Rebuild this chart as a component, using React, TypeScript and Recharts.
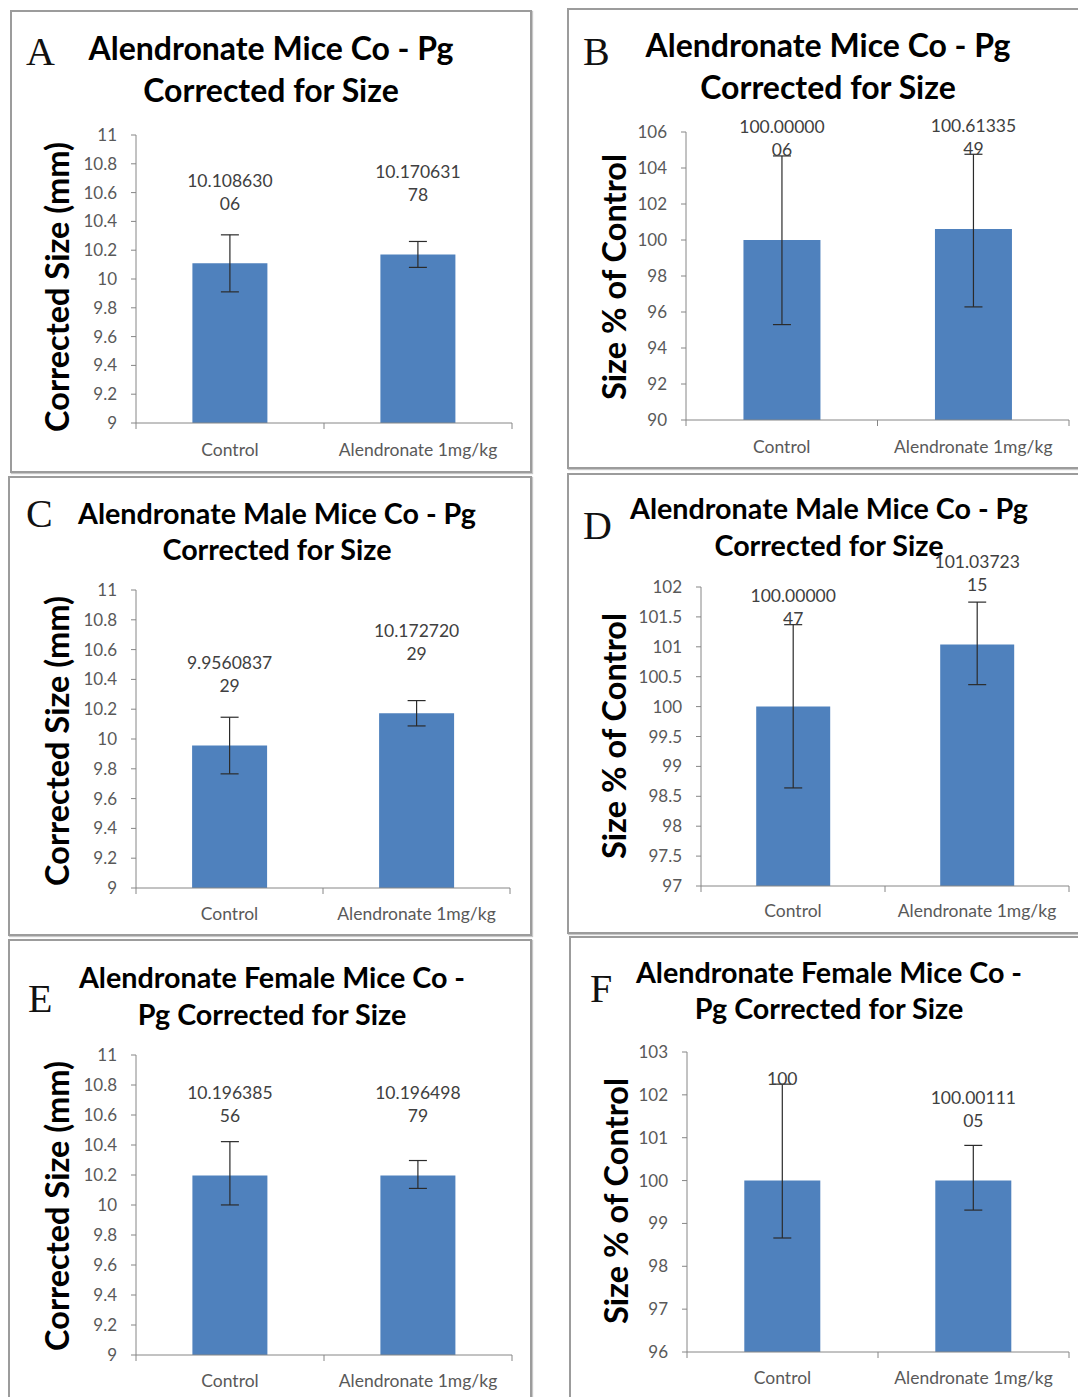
import React from "react";
import { BarChart, Bar, XAxis, YAxis, ErrorBar, LabelList } from "recharts";

// categories shared by all six panels
const categories = ["Control", "Alendronate 1mg/kg"];

// A - all mice, corrected size (mm)
const aMeans = [10.10863006, 10.17063178];
const aErrors = [[0.198, 0.198], [0.09, 0.09]];
// B - all mice, % of control
const bMeans = [100.0000006, 100.6133549];
const bErrors = [[4.7, 4.67], [4.33, 4.15]];
// C - male mice, corrected size (mm)
const cMeans = [9.956083729, 10.17272029];
const cErrors = [[0.19, 0.19], [0.085, 0.085]];
// D - male mice, % of control
const dMeans = [100.0000047, 101.0372315];
const dErrors = [[1.36, 1.37], [0.67, 0.71]];
// E - female mice, corrected size (mm)
const eMeans = [10.19638556, 10.19649879];
const eErrors = [[0.196, 0.226], [0.086, 0.1]];
// F - female mice, % of control
const fMeans = [100, 100.0011105];
const fErrors = [[1.34, 2.25], [0.69, 0.82]];

// y tick labels
const sizeTicks = [9, 9.2, 9.4, 9.6, 9.8, 10, 10.2, 10.4, 10.6, 10.8, 11];
const bTicks = [90, 92, 94, 96, 98, 100, 102, 104, 106];
const dTicks = [97, 97.5, 98, 98.5, 99, 99.5, 100, 100.5, 101, 101.5, 102];
const fTicks = [96, 97, 98, 99, 100, 101, 102, 103];

const FONT = "Lato, 'Open Sans', sans-serif";
const BLUE = "#4F81BD";
const AXIS = "#868686";
const TEXT = "#595959";

type Box = { x: number; y: number; w: number; h: number };
type Plot = { left: number; top: number; right: number; bottom: number };

type PanelProps = {
  letter: string;
  letterPos: [number, number];
  title: [string, string];
  titleY: [number, number];
  titleCx: number;
  titleSize: number;
  yLabel: string;
  yLabelPos: [number, number];
  box: Box;
  plot: Plot;
  means: number[];
  errors: number[][];
  ticks: number[];
  xLabelDy: number;
};

function Panel(p: PanelProps) {
  const { box, plot } = p;
  const data = categories.map((c, i) => ({ name: c, value: p.means[i], err: p.errors[i] }));
  const yAxisW = 60;
  const xAxisH = 40;
  const margin = {
    top: plot.top - box.y,
    left: plot.left - box.x - yAxisW,
    right: box.x + box.w - plot.right,
    bottom: box.y + box.h - plot.bottom - xAxisH,
  };
  const band = (plot.right - plot.left) / categories.length;
  const dMin = p.ticks[0];
  const dMax = p.ticks[p.ticks.length - 1];
  const spacing = p.titleY[1] - p.titleY[0];

  const renderXTick = (props: any) => {
    const { x, y, payload, index } = props;
    return (
      <g>
        <line x1={x - band / 2} x2={x - band / 2} y1={y} y2={y + 6} stroke={AXIS} />
        {index === categories.length - 1 && (
          <line x1={x + band / 2} x2={x + band / 2} y1={y} y2={y + 6} stroke={AXIS} />
        )}
        <text x={x} y={y + p.xLabelDy} textAnchor="middle" dominantBaseline="central" fontSize={17.5} fill={TEXT} fontFamily={FONT}>
          {payload.value}
        </text>
      </g>
    );
  };

  const renderLabel = (props: any) => {
    const vb = props.viewBox || {};
    const x = props.x ?? vb.x;
    const y = props.y ?? vb.y;
    const width = props.width ?? vb.width;
    const height = props.height ?? vb.height;
    const index = props.index ?? 0;
    const value = Number(props.value);
    const plus = p.errors[index][1];
    const pxPerUnit = height / (value - dMin);
    const errTop = y - plus * pxPerUnit;
    const cy = Math.min(y - 60, errTop - 6);
    const s = String(value);
    const lines = s.length > 9 ? [s.slice(0, 9), s.slice(9)] : [s];
    const cx = x + width / 2;
    return (
      <text textAnchor="middle" fontSize={17.5} fill="#404040" fontFamily={FONT}>
        {lines.map((l, i) => (
          <tspan key={i} x={cx} y={cy - (lines.length - 1 - i) * 23} dominantBaseline="central">
            {l}
          </tspan>
        ))}
      </text>
    );
  };

  return (
    <div style={{ position: "absolute", left: box.x, top: box.y, width: box.w, height: box.h }}>
      <div
        style={{
          position: "absolute",
          inset: 0,
          border: "2px solid #9c9c9c",
          boxSizing: "border-box",
          boxShadow: "1px 1px 1px #c8c8c8",
        }}
      />
      <div
        style={{
          position: "absolute",
          left: p.letterPos[0] - box.x - 2,
          top: p.letterPos[1] - box.y - 7,
          fontFamily: "'Liberation Serif', serif",
          fontSize: 40,
          lineHeight: "42px",
          color: "#111",
        }}
      >
        {p.letter}
      </div>
      <div
        style={{
          position: "absolute",
          left: p.titleCx - box.x - 260,
          width: 520,
          top: p.titleY[0] - box.y - spacing / 2,
          textAlign: "center",
          fontFamily: FONT,
          fontWeight: 700,
          fontSize: p.titleSize,
          lineHeight: `${spacing}px`,
          color: "#000",
          whiteSpace: "nowrap",
        }}
      >
        <div>{p.title[0]}</div>
        <div>{p.title[1]}</div>
      </div>
      <div
        style={{
          position: "absolute",
          left: p.yLabelPos[0] - box.x - 200,
          top: p.yLabelPos[1] - box.y - 20,
          width: 400,
          height: 40,
          lineHeight: "40px",
          textAlign: "center",
          transform: "rotate(-90deg)",
          fontFamily: FONT,
          fontWeight: 700,
          fontSize: 32.5,
          color: "#000",
          whiteSpace: "nowrap",
        }}
      >
        {p.yLabel}
      </div>
      <div style={{ position: "absolute", left: 0, top: 0 }}>
        <BarChart width={box.w} height={box.h} data={data} margin={margin} barCategoryGap="30%">
          <XAxis
            dataKey="name"
            height={xAxisH}
            stroke={AXIS}
            tickLine={false}
            tickSize={0}
            tickMargin={0}
            interval={0}
            tick={renderXTick}
          />
          <YAxis
            type="number"
            width={yAxisW}
            domain={[dMin, dMax]}
            ticks={p.ticks}
            interval={0}
            allowDataOverflow
            stroke={AXIS}
            tickSize={5}
            tickMargin={14}
            tickFormatter={(v: number) => String(v)}
            tick={{ fontSize: 17, fill: TEXT, fontFamily: FONT }}
          />
          <Bar dataKey="value" fill={BLUE} isAnimationActive={false}>
            <ErrorBar dataKey="err" width={9} stroke="#2b2b2b" strokeWidth={1.2} direction="y" isAnimationActive={false} />
            <LabelList dataKey="value" content={renderLabel} />
          </Bar>
        </BarChart>
      </div>
    </div>
  );
}

const sizeLabel = "Corrected Size (mm)";
const pctLabel = "Size % of Control";

export default function App() {
  return (
    <div
      style={{
        position: "absolute",
        left: 0,
        top: 0,
        width: 1078,
        height: 1397,
        overflow: "hidden",
        background: "#fff",
      }}
    >
      <Panel
        letter="A"
        letterPos={[28, 38]}
        title={["Alendronate Mice Co - Pg", "Corrected for Size"]}
        titleY={[48, 90]}
        titleCx={271}
        titleSize={32}
        yLabel={sizeLabel}
        yLabelPos={[57, 287]}
        box={{ x: 10, y: 10, w: 522, h: 463 }}
        plot={{ left: 136, top: 135, right: 512, bottom: 423 }}
        means={aMeans}
        errors={aErrors}
        ticks={sizeTicks}
        xLabelDy={26}
      />
      <Panel
        letter="B"
        letterPos={[585, 38]}
        title={["Alendronate Mice Co - Pg", "Corrected for Size"]}
        titleY={[45, 87]}
        titleCx={828}
        titleSize={32}
        yLabel={pctLabel}
        yLabelPos={[614, 277]}
        box={{ x: 567, y: 8, w: 515, h: 461 }}
        plot={{ left: 686, top: 132, right: 1069, bottom: 420 }}
        means={bMeans}
        errors={bErrors}
        ticks={bTicks}
        xLabelDy={26}
      />
      <Panel
        letter="C"
        letterPos={[28, 500]}
        title={["Alendronate Male Mice Co - Pg", "Corrected for Size"]}
        titleY={[513, 549]}
        titleCx={277}
        titleSize={28.7}
        yLabel={sizeLabel}
        yLabelPos={[57, 741]}
        box={{ x: 8, y: 476, w: 524, h: 460 }}
        plot={{ left: 136, top: 590, right: 510, bottom: 888 }}
        means={cMeans}
        errors={cErrors}
        ticks={sizeTicks}
        xLabelDy={25}
      />
      <Panel
        letter="D"
        letterPos={[585, 512]}
        title={["Alendronate Male Mice Co - Pg", "Corrected for Size"]}
        titleY={[508, 545]}
        titleCx={829}
        titleSize={28.7}
        yLabel={pctLabel}
        yLabelPos={[614, 736]}
        box={{ x: 567, y: 473, w: 515, h: 461 }}
        plot={{ left: 701, top: 587, right: 1069, bottom: 886 }}
        means={dMeans}
        errors={dErrors}
        ticks={dTicks}
        xLabelDy={24}
      />
      <Panel
        letter="E"
        letterPos={[30, 985]}
        title={["Alendronate Female Mice Co -", "Pg Corrected for Size"]}
        titleY={[977, 1014]}
        titleCx={272}
        titleSize={28.7}
        yLabel={sizeLabel}
        yLabelPos={[57, 1206]}
        box={{ x: 8, y: 939, w: 524, h: 462 }}
        plot={{ left: 136, top: 1055, right: 512, bottom: 1355 }}
        means={eMeans}
        errors={eErrors}
        ticks={sizeTicks}
        xLabelDy={25}
      />
      <Panel
        letter="F"
        letterPos={[592, 975]}
        title={["Alendronate Female Mice Co -", "Pg Corrected for Size"]}
        titleY={[972, 1008]}
        titleCx={829}
        titleSize={28.7}
        yLabel={pctLabel}
        yLabelPos={[616, 1201]}
        box={{ x: 569, y: 936, w: 513, h: 465 }}
        plot={{ left: 687, top: 1052, right: 1069, bottom: 1352 }}
        means={fMeans}
        errors={fErrors}
        ticks={fTicks}
        xLabelDy={25}
      />
    </div>
  );
}
